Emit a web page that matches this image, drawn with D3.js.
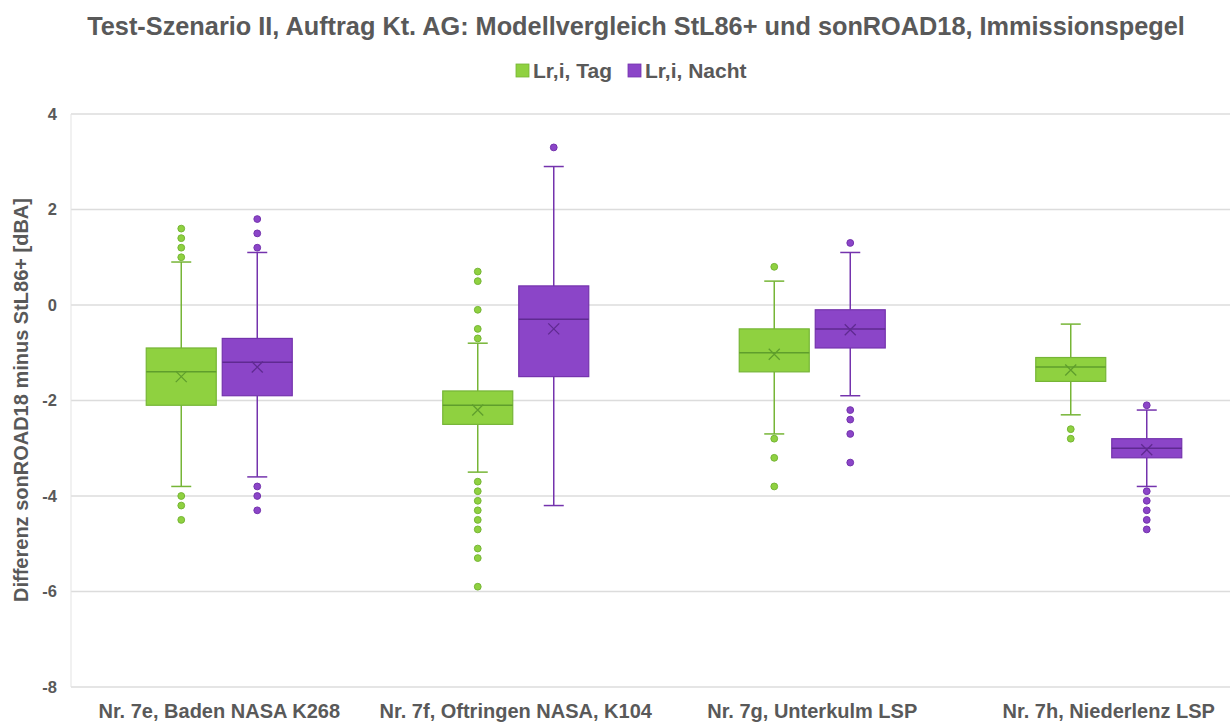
<!DOCTYPE html>
<html>
<head>
<meta charset="utf-8">
<script src="https://cdn.jsdelivr.net/npm/d3@7"></script>
<style>
  html, body { margin: 0; padding: 0; background: #fff; }
  svg text { font-family: "Liberation Sans", Arial, sans-serif; font-weight: bold; fill: #595959; }
</style>
</head>
<body>
<svg id="chart" width="1230" height="725"></svg>
<script>
// Measurement sites (x categories)
const categories = [
  "Nr. 7e, Baden NASA K268",
  "Nr. 7f, Oftringen NASA, K104",
  "Nr. 7g, Unterkulm LSP",
  "Nr. 7h, Niederlenz LSP"
];
const seriesNames = ["Lr,i, Tag", "Lr,i, Nacht"];
const yTicks = [-8, -6, -4, -2, 0, 2, 4];

// Day rating level (Tag): box-plot statistics per site [dBA]
const tagMin     = [-3.8, -3.5, -2.7, -2.3];
const tagQ1      = [-2.1, -2.5, -1.4, -1.6];
const tagMedian  = [-1.4, -2.1, -1.0, -1.3];
const tagQ3      = [-0.9, -1.8, -0.5, -1.1];
const tagMax     = [0.9, -0.8, 0.5, -0.4];
const tagMean    = [-1.5, -2.2, -1.03, -1.36];
const tagOutliers = [
  [1.6, 1.4, 1.2, 1.0, -4.0, -4.2, -4.5],
  [0.7, 0.5, -0.1, -0.5, -0.7, -3.7, -3.9, -4.1, -4.3, -4.5, -4.7, -5.1, -5.3, -5.9],
  [0.8, -2.8, -3.2, -3.8],
  [-2.6, -2.8]
];

// Night rating level (Nacht): box-plot statistics per site [dBA]
const nachtMin     = [-3.6, -4.2, -1.9, -3.8];
const nachtQ1      = [-1.9, -1.5, -0.9, -3.2];
const nachtMedian  = [-1.2, -0.3, -0.5, -3.0];
const nachtQ3      = [-0.7, 0.4, -0.1, -2.8];
const nachtMax     = [1.1, 2.9, 1.1, -2.2];
const nachtMean    = [-1.3, -0.5, -0.52, -3.03];
const nachtOutliers = [
  [1.8, 1.5, 1.2, -3.8, -4.0, -4.3],
  [3.3],
  [1.3, -2.2, -2.4, -2.7, -3.3],
  [-2.1, -3.9, -4.1, -4.3, -4.5, -4.7]
];

const styles = [
  { fill: "#8fd140", stroke: "#76b536", dark: "#5f9e2c" },
  { fill: "#8b45c8", stroke: "#7433ad", dark: "#5f2a91" }
];

// Assemble rows for each series
function buildSeries(mn, q1, med, q3, mx, mean, out) {
  return categories.map((c, i) => ({
    cat: c, min: mn[i], q1: q1[i], median: med[i], q3: q3[i], max: mx[i], mean: mean[i], outliers: out[i]
  }));
}
const series = [
  buildSeries(tagMin, tagQ1, tagMedian, tagQ3, tagMax, tagMean, tagOutliers),
  buildSeries(nachtMin, nachtQ1, nachtMedian, nachtQ3, nachtMax, nachtMean, nachtOutliers)
];

const svg = d3.select("#chart");
const W = 1230, H = 725;

const x = d3.scaleBand().domain(categories).range([71, 1257]).paddingInner(0).paddingOuter(0);
const xs = d3.scaleBand().domain(seriesNames).range([0, x.bandwidth()]).paddingInner(0.079).paddingOuter(0.99);
const y = d3.scaleLinear().domain([-8, 4]).range([687, 114]);

// Gridlines
svg.append("g")
  .selectAll("line")
  .data(yTicks)
  .join("line")
  .attr("x1", 71).attr("x2", W)
  .attr("y1", d => y(d)).attr("y2", d => y(d))
  .attr("stroke", "#dcdcdc").attr("stroke-width", 1.5);

// Left border of plot area
svg.append("line")
  .attr("x1", 71).attr("x2", 71).attr("y1", y(4)).attr("y2", y(-8))
  .attr("stroke", "#e3e3e3").attr("stroke-width", 1);

// Y axis tick labels (plain hyphen for negatives)
const yAxis = d3.axisLeft(y).tickValues(yTicks).tickSize(0).tickPadding(0).tickFormat(d => String(d));
const yg = svg.append("g").attr("transform", "translate(57,0)").call(yAxis);
yg.select(".domain").remove();
yg.selectAll("text").attr("font-size", 16.5).style("font-family", "Liberation Sans, Arial, sans-serif").style("font-weight", "bold").attr("fill", "#595959");

// X axis category labels
const xAxis = d3.axisBottom(x).tickSize(0).tickPadding(0);
const xg = svg.append("g").attr("transform", "translate(0,700)").call(xAxis);
xg.select(".domain").remove();
xg.selectAll("text").attr("font-size", 20).attr("dy", "0.9em").style("font-family", "Liberation Sans, Arial, sans-serif").style("font-weight", "bold").attr("fill", "#595959");

// Box plots
series.forEach((rows, si) => {
  const st = styles[si];
  const bw = xs.bandwidth();
  const g = svg.append("g");
  const grp = g.selectAll("g").data(rows).join("g")
    .attr("transform", d => `translate(${x(d.cat) + xs(seriesNames[si])},0)`);
  const cx = bw / 2;

  // whiskers
  grp.append("line").attr("x1", cx).attr("x2", cx).attr("y1", d => y(d.max)).attr("y2", d => y(d.q3))
    .attr("stroke", st.stroke).attr("stroke-width", 1.5);
  grp.append("line").attr("x1", cx).attr("x2", cx).attr("y1", d => y(d.q1)).attr("y2", d => y(d.min))
    .attr("stroke", st.stroke).attr("stroke-width", 1.5);
  // caps
  grp.append("line").attr("x1", cx - 10).attr("x2", cx + 10).attr("y1", d => y(d.max)).attr("y2", d => y(d.max))
    .attr("stroke", st.stroke).attr("stroke-width", 1.5);
  grp.append("line").attr("x1", cx - 10).attr("x2", cx + 10).attr("y1", d => y(d.min)).attr("y2", d => y(d.min))
    .attr("stroke", st.stroke).attr("stroke-width", 1.5);
  // box
  grp.append("rect").attr("x", 0).attr("width", bw)
    .attr("y", d => y(d.q3)).attr("height", d => y(d.q1) - y(d.q3))
    .attr("fill", st.fill).attr("stroke", st.stroke).attr("stroke-width", 1.2);
  // median
  grp.append("line").attr("x1", 0).attr("x2", bw).attr("y1", d => y(d.median)).attr("y2", d => y(d.median))
    .attr("stroke", st.dark).attr("stroke-width", 1.5);
  // mean marker (x)
  grp.append("path")
    .attr("d", d => {
      const my = y(d.mean), s = 5.5;
      return `M${cx - s},${my - s}L${cx + s},${my + s}M${cx - s},${my + s}L${cx + s},${my - s}`;
    })
    .attr("stroke", st.dark).attr("stroke-width", 1.3).attr("fill", "none");
  // outliers
  grp.selectAll("circle").data(d => d.outliers).join("circle")
    .attr("cx", cx).attr("cy", v => y(v)).attr("r", 3.4)
    .attr("fill", st.fill).attr("stroke", st.stroke).attr("stroke-width", 1);
});

// Title
svg.append("text").attr("x", 636).attr("y", 35).attr("text-anchor", "middle")
  .attr("font-size", 25.3)
  .text("Test-Szenario II, Auftrag Kt. AG: Modellvergleich StL86+ und sonROAD18, Immissionspegel");

// Legend
const legend = svg.append("g").attr("transform", "translate(516,63)");
const legX = [0, 112];
seriesNames.forEach((n, i) => {
  legend.append("rect").attr("x", legX[i]).attr("y", 1).attr("width", 13).attr("height", 13)
    .attr("fill", styles[i].fill).attr("stroke", styles[i].stroke).attr("stroke-width", 0.8);
  legend.append("text").attr("x", legX[i] + 17).attr("y", 15).attr("font-size", 21).text(n);
});

// Y axis title
svg.append("text")
  .attr("transform", "translate(28,400) rotate(-90)")
  .attr("text-anchor", "middle").attr("font-size", 20)
  .text("Differenz sonROAD18 minus StL86+ [dBA]");
</script>
</body>
</html>
